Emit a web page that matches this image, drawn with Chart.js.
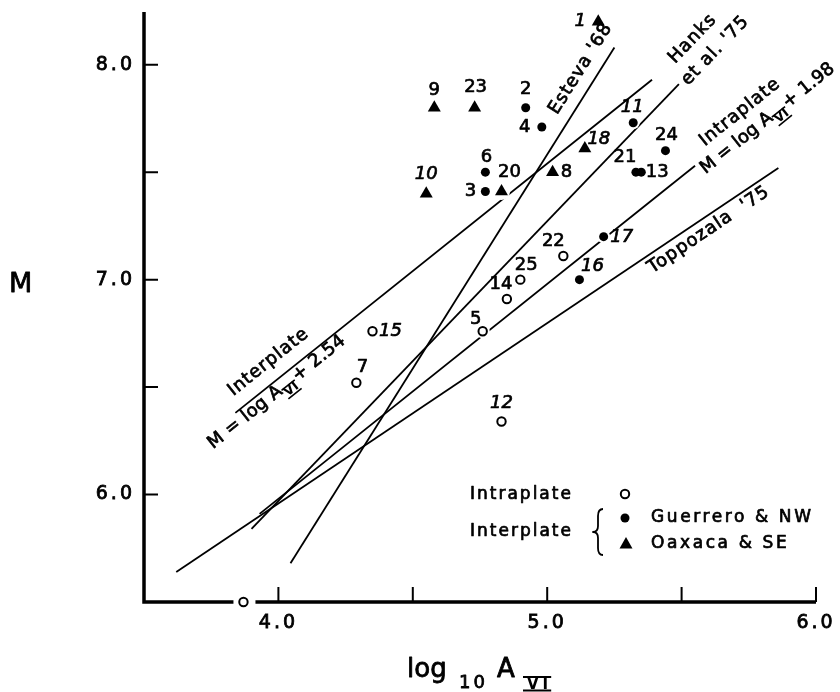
<!DOCTYPE html>
<html>
<head>
<meta charset="utf-8">
<script src="https://cdn.jsdelivr.net/npm/chart.js@4.4.1/dist/chart.umd.min.js"></script>
<style>
  html, body { margin: 0; padding: 0; background: #fff; }
  canvas { display: block; }
</style>
</head>
<body>
<canvas id="myChart" width="840" height="692"></canvas>
<script>
// intraplate events (open circles)
var intraNo   = ["5", "7", "12", "14", "15", "22", "25", ""];
var intraLogA = [4.76, 4.29, 4.83, 4.85, 4.35, 5.06, 4.90, 3.87];
var intraM    = [6.76, 6.52, 6.34, 6.91, 6.76, 7.11, 7.00, 5.50];

// interplate, Guerrero & NW (dots)
var guerNo   = ["2", "3", "4", "6", "11", "13", "16", "17", "21", "24"];
var guerLogA = [4.92, 4.77, 4.98, 4.77, 5.32, 5.35, 5.12, 5.21, 5.33, 5.44];
var guerM    = [7.80, 7.41, 7.71, 7.50, 7.73, 7.50, 7.00, 7.20, 7.50, 7.60];

// interplate, Oaxaca & SE (triangles)
var oaxNo   = ["1", "8", "9", "10", "18", "20", "23"];
var oaxLogA = [5.19, 5.02, 4.58, 4.55, 5.14, 4.83, 4.73];
var oaxM    = [8.20, 7.50, 7.80, 7.40, 7.61, 7.41, 7.80];

// M - log A relations (end points)
var relName  = ["Esteva '68", "Hanks et al. '75", "Intraplate", "Toppozala '75", "Interplate"];
var relLogA0 = [4.045, 3.90, 3.93, 3.62, 3.84];
var relM0    = [5.68, 5.84, 5.91, 5.64, 6.38];
var relLogA1 = [5.25, 5.49, 5.55, 5.86, 5.39];
var relM1    = [8.08, 7.91, 7.53, 7.52, 7.93];

var xTicks = [4.0, 5.0, 6.0];
var yTicks = [6.0, 7.0, 8.0];

var FONT = "'DejaVu Sans', sans-serif";

function pts(xs, ys) {
  var out = [];
  for (var i = 0; i < xs.length; i++) out.push({ x: xs[i], y: ys[i] });
  return out;
}

// where the little event numbers sit, relative to the mark (px)
var numOffset = {
  "1": [-18, 0], "2": [0, -18], "3": [-15, 0], "4": [-17, 0], "5": [-7, -12],
  "6": [1, -15], "7": [6, -15], "8": [14, 0], "9": [0, -17], "10": [0, -19],
  "11": [-1, -15], "12": [0, -18], "13": [16, 0], "14": [-6, -15], "15": [18, 0],
  "16": [13, -13], "17": [18, 1], "18": [14, -9], "20": [8, -19], "21": [-11, -15],
  "22": [-10, -15], "23": [1, -20], "24": [1, -15], "25": [6, -14]
};
var italicNo = ["1", "10", "11", "12", "15", "16", "17", "18"];

// text along the relation lines: [line index, start logA, start M, letter spacing, parts]
var VI = { t: "VI", bars: true };
var relText = [
  [0, 5.022, 7.777, 1, [{ t: "Esteva '68" }]],
  [1, 5.463, 8.019, 1, [{ t: "Hanks" }]],
  [1, 5.511, 7.916, 1, [{ t: "et al. '75" }]],
  [2, 5.575, 7.637, 1, [{ t: "Intraplate" }]],
  [2, 5.578, 7.507, 0, [{ t: "M = log A" }, VI, { t: "+ 1.98" }]],
  [3, 5.381, 7.047, 1, [{ t: "Toppozala  '75" }]],
  [4, 3.821, 6.474, 1, [{ t: "Interplate" }]],
  [4, 3.746, 6.228, 0.3, [{ t: "M = log A" }, VI, { t: "+ 2.54" }]]
];

function txt(ctx, s, x, y) {
  ctx.fillText(s, x, y);
  ctx.strokeText(s, x, y);
}

function drawRich(ctx, x0, y0, ang, parts, size, ls) {
  ctx.save();
  ctx.translate(x0, y0);
  ctx.rotate(ang);
  ctx.textAlign = "left";
  ctx.textBaseline = "middle";
  var cx = 0;
  parts.forEach(function (p) {
    if (p.bars) {
      ctx.font = "bold " + Math.round(size * 0.72) + "px " + FONT;
      ctx.letterSpacing = "0px";
      var w = ctx.measureText(p.t).width;
      ctx.fillText(p.t, cx + 1, 7);
      ctx.save();
      ctx.lineWidth = 1.6;
      ctx.beginPath();
      ctx.moveTo(cx, 1.5); ctx.lineTo(cx + w + 2, 1.5);
      ctx.moveTo(cx, 12.5); ctx.lineTo(cx + w + 2, 12.5);
      ctx.stroke();
      ctx.restore();
      cx += w + 3;
    } else {
      ctx.font = size + "px " + FONT;
      ctx.letterSpacing = ls + "px";
      txt(ctx, p.t, cx, 0);
      cx += ctx.measureText(p.t).width;
    }
  });
  ctx.restore();
}

var deco = {
  id: "deco",
  beforeDraw: function (chart) {
    chart.ctx.letterSpacing = "3px";
  },
  afterDraw: function (chart) {
    var ctx = chart.ctx, xs = chart.scales.x, ys = chart.scales.y, a = chart.chartArea;
    ctx.save();
    ctx.letterSpacing = "0px";
    ctx.strokeStyle = "#000";
    ctx.fillStyle = "#000";
    ctx.lineCap = "butt";

    // axes (x axis broken around the off-scale event)
    ctx.lineWidth = 3.5;
    var gx = xs.getPixelForValue(intraLogA[intraLogA.length - 1]);
    ctx.beginPath();
    ctx.moveTo(a.left, a.top + 1); ctx.lineTo(a.left, a.bottom);
    ctx.lineTo(gx - 10, a.bottom);
    ctx.moveTo(gx + 12, a.bottom); ctx.lineTo(a.right, a.bottom);
    ctx.stroke();

    // inward tick marks
    ctx.lineWidth = 2;
    ctx.beginPath();
    ys.ticks.forEach(function (t) {
      if (t.value > ys.min && t.value < ys.max && Math.abs(t.value * 2 - Math.round(t.value * 2)) < 1e-6) {
        var py = ys.getPixelForValue(t.value);
        ctx.moveTo(a.left, py); ctx.lineTo(a.left + 14, py);
      }
    });
    xs.ticks.forEach(function (t) {
      if (t.value > xs.min && Math.abs(t.value * 2 - Math.round(t.value * 2)) < 1e-6) {
        var px = xs.getPixelForValue(t.value);
        ctx.moveTo(px, a.bottom); ctx.lineTo(px, a.bottom - 15);
      }
    });
    ctx.stroke();

    ctx.lineWidth = 0.7;
    ctx.lineJoin = "round";

    // event numbers
    ctx.textAlign = "center";
    ctx.textBaseline = "middle";
    [[intraNo, intraLogA, intraM], [guerNo, guerLogA, guerM], [oaxNo, oaxLogA, oaxM]].forEach(function (g) {
      g[0].forEach(function (n, i) {
        if (!n) return;
        var off = numOffset[n] || [0, -16];
        ctx.font = (italicNo.indexOf(n) >= 0 ? "italic " : "") + "18px " + FONT;
        txt(ctx, n, xs.getPixelForValue(g[1][i]) + off[0], ys.getPixelForValue(g[2][i]) + off[1]);
      });
    });

    // labels along relation lines
    relText.forEach(function (r) {
      var k = r[0];
      var ang = Math.atan2(ys.getPixelForValue(relM1[k]) - ys.getPixelForValue(relM0[k]),
                           xs.getPixelForValue(relLogA1[k]) - xs.getPixelForValue(relLogA0[k]));
      drawRich(ctx, xs.getPixelForValue(r[1]), ys.getPixelForValue(r[2]), ang, r[4], 18, r[3]);
    });

    // legend
    ctx.textAlign = "left";
    ctx.textBaseline = "middle";
    ctx.font = "17px " + FONT;
    ctx.letterSpacing = "2px";
    txt(ctx, "Intraplate", 470, 495);
    txt(ctx, "Interplate", 470, 532);
    ctx.letterSpacing = "2.6px";
    txt(ctx, "Guerrero & NW", 651, 518);
    txt(ctx, "Oaxaca & SE", 651, 544);
    ctx.letterSpacing = "0px";
    ctx.lineWidth = 2;
    ctx.beginPath(); ctx.arc(625, 494, 4.2, 0, Math.PI * 2); ctx.stroke();
    ctx.beginPath(); ctx.arc(625, 518, 4.5, 0, Math.PI * 2); ctx.fill();
    ctx.beginPath();
    ctx.moveTo(626, 537); ctx.lineTo(632.5, 548.5); ctx.lineTo(619.5, 548.5); ctx.closePath(); ctx.fill();
    ctx.lineWidth = 1.8;
    ctx.beginPath();
    ctx.moveTo(603, 509);
    ctx.quadraticCurveTo(598, 509, 598, 516);
    ctx.lineTo(598, 526);
    ctx.quadraticCurveTo(598, 532, 593, 532);
    ctx.quadraticCurveTo(598, 532, 598, 538);
    ctx.lineTo(598, 548);
    ctx.quadraticCurveTo(598, 555, 603, 555);
    ctx.stroke();

    // axis titles
    ctx.lineWidth = 0.8;
    ctx.textBaseline = "middle";
    ctx.font = "27px " + FONT;
    txt(ctx, "M", 9, 285);
    ctx.textBaseline = "alphabetic";
    ctx.font = "26px " + FONT;
    txt(ctx, "log", 407, 677);
    ctx.font = "18px " + FONT;
    ctx.letterSpacing = "3px";
    txt(ctx, "10", 459, 688);
    ctx.letterSpacing = "0px";
    ctx.font = "26px " + FONT;
    txt(ctx, "A", 497, 677);
    ctx.font = "bold 15px " + FONT;
    ctx.letterSpacing = "4px";
    var vw = ctx.measureText("VI").width;
    ctx.fillText("VI", 527, 689);
    ctx.letterSpacing = "0px";
    ctx.lineWidth = 2;
    ctx.beginPath();
    ctx.moveTo(523, 677); ctx.lineTo(526 + vw, 677);
    ctx.moveTo(523, 690.5); ctx.lineTo(526 + vw, 690.5);
    ctx.stroke();
    ctx.restore();
  }
};

var relSets = relName.map(function (n, k) {
  return {
    label: n,
    data: [{ x: relLogA0[k], y: relM0[k] }, { x: relLogA1[k], y: relM1[k] }],
    showLine: true,
    borderColor: "#000",
    borderWidth: 1.8,
    pointRadius: 0,
    fill: false,
    order: 3
  };
});

// white rings under the marks so the lines break around them
function halo(xs, ys, r) {
  return {
    label: "",
    data: pts(xs, ys),
    pointStyle: "circle",
    pointRadius: r,
    pointBorderWidth: 0,
    pointBackgroundColor: "#fff",
    pointBorderColor: "#fff",
    clip: false,
    order: 2
  };
}

var ctx = document.getElementById("myChart");
var myChart = new Chart(ctx, {
  type: "scatter",
  data: {
    datasets: [
      {
        label: "Intraplate",
        data: pts(intraLogA, intraM),
        pointStyle: "circle",
        pointRadius: 4.2,
        pointBorderWidth: 2,
        pointBackgroundColor: "#fff",
        pointBorderColor: "#000",
        clip: false,
        order: 1
      },
      {
        label: "Guerrero & NW",
        data: pts(guerLogA, guerM),
        pointStyle: "circle",
        pointRadius: 4.5,
        pointBorderWidth: 0,
        pointBackgroundColor: "#000",
        pointBorderColor: "#000",
        clip: false,
        order: 1
      },
      {
        label: "Oaxaca & SE",
        data: pts(oaxLogA, oaxM),
        pointStyle: "triangle",
        pointRadius: 7.5,
        pointBorderWidth: 0,
        pointBackgroundColor: "#000",
        pointBorderColor: "#000",
        clip: false,
        order: 1
      },
      halo(intraLogA, intraM, 7),
      halo(guerLogA, guerM, 6.5),
      halo(oaxLogA, oaxM, 8.5)
    ].concat(relSets)
  },
  options: {
    responsive: false,
    animation: false,
    layout: { padding: { top: 11, right: 24, left: 0, bottom: 0 } },
    plugins: { legend: { display: false }, tooltip: { enabled: false }, title: { display: false } },
    scales: {
      x: {
        type: "linear",
        min: 3.5,
        max: 6.0,
        grid: { display: false, drawTicks: false },
        border: { display: false },
        ticks: {
          stepSize: 0.5,
          autoSkip: false,
          maxRotation: 0,
          padding: 10,
          color: "#000",
          textStrokeColor: "#000",
          textStrokeWidth: 0.8,
          font: { family: FONT, size: 19 },
          callback: function (v) { return xTicks.indexOf(v) >= 0 ? v.toFixed(1) : ""; }
        },
        afterFit: function (s) { s.height = 90; s.paddingLeft = 0; s.paddingRight = 0; }
      },
      y: {
        type: "linear",
        min: 5.5,
        max: 8.25,
        grid: { display: false, drawTicks: false },
        border: { display: false },
        ticks: {
          stepSize: 0.5,
          autoSkip: false,
          padding: 9,
          color: "#000",
          textStrokeColor: "#000",
          textStrokeWidth: 0.8,
          font: { family: FONT, size: 19 },
          callback: function (v) { return yTicks.indexOf(v) >= 0 ? v.toFixed(1) : ""; }
        },
        afterFit: function (s) { s.width = 144; s.paddingTop = 0; s.paddingBottom = 0; }
      }
    }
  },
  plugins: [deco]
});
</script>
</body>
</html>
